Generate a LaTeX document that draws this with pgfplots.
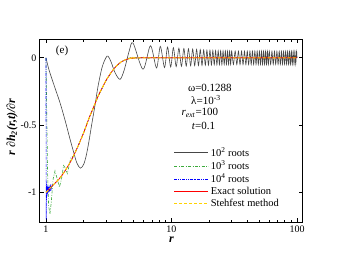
\documentclass[border=0pt]{standalone}
\usepackage{fontspec}
\setmainfont{Liberation Serif}
\usepackage{pgfplots}
\pgfplotsset{compat=1.18}
\definecolor{cgreen}{RGB}{60,170,60}
\definecolor{cyellow}{RGB}{255,210,0}
\definecolor{cgray}{RGB}{70,70,70}
\begin{document}
\begin{tikzpicture}
\useasboundingbox (-40pt,-41pt) rectangle (301pt,222pt);
\begin{axis}[
 at={(0pt,0pt)}, anchor=south west, scale only axis, width=263pt, height=183pt,
 xmode=log, xmin=0.896, xmax=111.6, ymin=-1.22, ymax=0.14,
 xtick={1,10,100}, xticklabels={1,10,100},
 minor xtick={2,3,4,5,6,7,8,9,20,30,40,50,60,70,80,90},
 ytick={-1,-0.5,0}, yticklabels={-1,-0.5,0},
 tick align=inside, major tick length=4pt, minor tick length=2.5pt,
 tick style={black, line width=0.7pt},
 axis line style={line width=1pt},
 tick label style={font=\fontsize{10}{12}\selectfont},
 xlabel={\bfseries\itshape r}, ylabel={\bfseries\itshape r ∂h\textsubscript{2}(r,t)/∂r},
 label style={font=\fontsize{12}{14}\selectfont},
 xlabel style={at={(axis description cs:0.5,-0.098)}, anchor=center},
 ylabel style={at={(axis description cs:-0.106,0.519)}, anchor=center},
 legend style={at={(axis description cs:0.505,0.425)}, anchor=north west, draw=none, fill=none, font=\fontsize{10.5}{12}\selectfont, row sep=-1pt, inner sep=1pt},
 legend cell align=left,
 legend image code/.code={\draw[#1, line width=0.8pt] (0pt,0pt) -- (34pt,0pt);},
]
% 10^2 roots
\addplot[cgray, line width=0.6pt, smooth, tension=0.5] coordinates {
(1,0)(1.05,-0.08)(1.1,-0.14)(1.186,-0.23)(1.3,-0.34)(1.425,-0.47)(1.55,-0.60)(1.66,-0.70)(1.76,-0.78)(1.88,-0.82)(2.0,-0.79)(2.1,-0.72)(2.2,-0.62)(2.3,-0.51)(2.46,-0.35)(2.6,-0.21)(2.8,-0.07)(3.0,0.0)(3.12,0.013)(3.3,-0.03)(3.55,-0.11)(3.89,-0.16)(4.2,-0.09)(4.6,0.05)(4.94,0.11)
(5.93,-0.085)(6.8,0.09)(7.6,-0.075)(8.15,0.085)(8.8,-0.072)(9.3,0.08)(9.85,-0.068)
(10.35,0.075)(10.9,-0.065)(11.45,0.072)(12.0,-0.063)(12.55,0.069)(13.1,-0.061)(13.65,0.067)(14.2,-0.059)(14.75,0.065)(15.3,-0.058)(15.85,0.063)(16.4,-0.057)(16.95,0.061)(17.5,-0.056)(18.05,0.059)(18.6,-0.055)(19.15,0.057)(19.7,-0.054)(20.25,0.056)(20.8,-0.053)(21.35,0.055)(21.9,-0.052)(22.45,0.054)(23.0,-0.052)(23.55,0.053)(24.1,-0.051)(24.65,0.053)(25.2,-0.051)(25.75,0.052)(26.3,-0.05)(26.85,0.052)(27.4,-0.05)(27.95,0.051)(28.5,-0.05)(29.05,0.051)(29.6,-0.05)(30.15,0.05)
(31.15,-0.05)(32.15,0.05)(33.15,-0.05)(34.15,0.05)(35.15,-0.05)(36.15,0.05)(37.15,-0.05)(38.15,0.05)(39.15,-0.05)(40.15,0.05)(41.15,-0.05)(42.15,0.05)(43.15,-0.05)(44.15,0.05)(45.15,-0.05)(46.15,0.05)(47.15,-0.05)(48.15,0.05)(49.15,-0.05)(50.15,0.05)(51.15,-0.05)(52.15,0.05)(53.15,-0.05)(54.15,0.05)(55.15,-0.05)(56.15,0.05)(57.15,-0.05)(58.15,0.05)(59.15,-0.05)(60.15,0.05)
(61.65,-0.049)(63.15,0.049)(64.65,-0.049)(66.15,0.049)(67.65,-0.049)(69.15,0.049)(70.65,-0.049)(72.15,0.049)(73.65,-0.049)(75.15,0.049)(76.65,-0.049)(78.15,0.049)(79.65,-0.049)(81.15,0.049)(82.65,-0.049)(84.15,0.049)(85.65,-0.049)(87.15,0.049)(88.65,-0.049)(90.15,0.049)(91.65,-0.049)(93.15,0.049)(94.65,-0.049)(96.15,0.049)(97.65,-0.049)(99.15,0.049)(100,0)
};
\addlegendentry{10\textsuperscript{2} roots}
% 10^3 roots
\addplot[cgreen, line width=0.6pt, dash pattern=on 3pt off 1.5pt on 0.8pt off 1.5pt] coordinates {
(1,0)(1.01,-0.3)(1.03,-0.85)(1.05,-1.1)(1.075,-1.16)(1.1,-1.08)(1.14,-0.90)(1.18,-0.84)(1.23,-0.9)(1.28,-0.96)(1.33,-0.9)(1.38,-0.80)(1.43,-0.82)(1.48,-0.86)(1.53,-0.80)(1.58,-0.74)(1.65,-0.73)(1.7,-0.707)(1.8,-0.657)(1.9,-0.605)(2.0,-0.555)(2.2,-0.45)(2.4,-0.365)(2.6,-0.285)(2.8,-0.225)(3.0,-0.17)(3.3,-0.11)(3.6,-0.065)(4.0,-0.028)(4.5,-0.004)(5.0,0.006)(5.5,-0.005)(6.0,0.005)(6.5,-0.004)(7.0,0.004)(8.0,0)(100,0)
};
\addlegendentry{10\textsuperscript{3} roots}
% 10^4 roots
\addplot[blue, line width=0.6pt, dash pattern=on 3pt off 1pt on 0.8pt off 1pt on 0.8pt off 1pt] coordinates {
(1,0)(1.0015,-0.6)(1.004,-1.2)(1.008,-0.92)(1.012,-1.06)(1.016,-0.94)(1.021,-1.03)(1.026,-0.95)(1.032,-1.01)(1.038,-0.955)(1.045,-0.995)(1.052,-0.96)(1.06,-1.0)(1.07,-0.95)(1.08,-0.99)(1.09,-0.94)(1.1,-0.975)(1.12,-0.94)(1.14,-0.945)(1.2,-0.925)(1.3,-0.89)(1.4,-0.848)(1.5,-0.803)(1.6,-0.757)(1.7,-0.707)(1.8,-0.657)(1.9,-0.605)(2.0,-0.555)(2.2,-0.45)(2.4,-0.365)(2.6,-0.285)(2.8,-0.225)(3.0,-0.17)(3.3,-0.11)(3.6,-0.065)(4.0,-0.028)(4.5,-0.008)(5.0,-0.002)(6,0)(100,0)
};
\addlegendentry{10\textsuperscript{4} roots}
% exact
\addplot[red, line width=0.7pt, smooth] coordinates {
(1,-1)(1.05,-0.98)(1.1,-0.96)(1.2,-0.925)(1.3,-0.89)(1.4,-0.848)(1.5,-0.803)(1.6,-0.757)(1.7,-0.707)(1.8,-0.657)(1.9,-0.605)(2.0,-0.555)(2.2,-0.45)(2.4,-0.365)(2.6,-0.285)(2.8,-0.225)(3.0,-0.17)(3.3,-0.11)(3.6,-0.065)(4.0,-0.028)(4.5,-0.008)(5.0,-0.002)(6,0)(100,0)
};
\addlegendentry{Exact solution}
% Stehfest
\addplot[cyellow, line width=1pt, dash pattern=on 3pt off 2pt, smooth] coordinates {
(1,-1)(1.05,-0.98)(1.1,-0.96)(1.2,-0.925)(1.3,-0.89)(1.4,-0.848)(1.5,-0.803)(1.6,-0.757)(1.7,-0.707)(1.8,-0.657)(1.9,-0.605)(2.0,-0.555)(2.2,-0.45)(2.4,-0.365)(2.6,-0.285)(2.8,-0.225)(3.0,-0.17)(3.3,-0.11)(3.6,-0.065)(4.0,-0.028)(4.5,-0.008)(5.0,-0.002)(6,0)(100,0)
};
\addlegendentry{Stehfest method}
\node[font=\fontsize{11}{13}\selectfont] at (rel axis cs:0.084,0.935) {(e)};
\node[font=\fontsize{11}{13}\selectfont] at (rel axis cs:0.646,0.732) {ω=0.1288};
\node[font=\fontsize{11}{13}\selectfont] at (rel axis cs:0.631,0.665) {λ=10\textsuperscript{-3}};
\node[font=\fontsize{11}{13}\selectfont] at (rel axis cs:0.608,0.596) {\textit{r}\textsubscript{\textit{ext}}=100};
\node[font=\fontsize{11}{13}\selectfont] at (rel axis cs:0.622,0.525) {\textit{t}=0.1};
\end{axis}
\end{tikzpicture}
\end{document}
